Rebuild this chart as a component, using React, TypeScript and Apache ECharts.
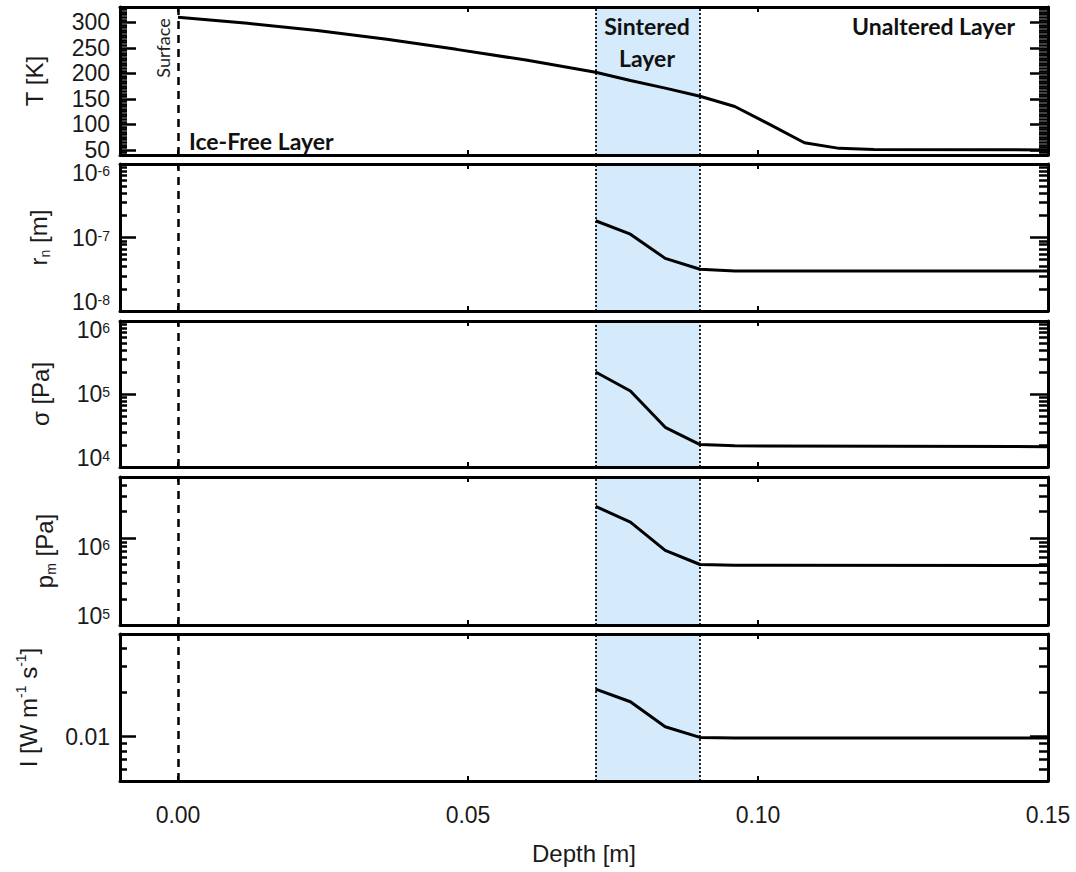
import React, { useEffect, useRef } from 'react';
import * as echarts from 'echarts';

// ---------- data ----------
const depthTicks = [0, 0.05, 0.1, 0.15];
const depthT = [0, 0.012, 0.024, 0.036, 0.048, 0.06, 0.072, 0.078, 0.084, 0.09, 0.096, 0.102, 0.108, 0.114, 0.12, 0.15];
const temperature = [310, 298, 284, 267, 247, 226, 202, 186, 171, 155, 135, 100, 64, 53, 51, 50];
const depthS = [0.072, 0.078, 0.084, 0.09, 0.096, 0.15];
const neckRadius = [1.69e-7, 1.11e-7, 5.2e-8, 3.7e-8, 3.5e-8, 3.5e-8];
const stress = [2.0e5, 1.1e5, 3.5e4, 2.03e4, 1.95e4, 1.9e4];
const pressure = [2.3e6, 1.52e6, 7.2e5, 4.95e5, 4.85e5, 4.83e5];
const conductivity = [0.0211, 0.0173, 0.0117, 0.0099, 0.0098, 0.0098];
const sinteredLayer = [0.072, 0.09];
const surfaceDepth = 0;

const tMajor = [50, 100, 150, 200, 250, 300];
const rMajor = [1e-8, 1e-7, 1e-6];
const sMajor = [1e4, 1e5, 1e6];
const pMajor = [1e5, 1e6];
const iMajor = [0.01];

// minor tick helpers
const linMinor = (lo: number, hi: number, step: number, major: number) => {
  const out: number[] = [];
  for (let v = lo; v <= hi + 1e-9; v += step) if (Math.abs(v % major) > 1e-6) out.push(v);
  return out;
};
const logMinor = (decades: number[], from = 2, to = 9) => {
  const out: number[] = [];
  decades.forEach((d) => { for (let k = from; k <= to; k++) out.push(k * d); });
  return out;
};

const FONT = "'Liberation Sans', Arial, Helvetica, sans-serif";
const TXT = '#1a1a1a';

const supFmt = (v: number) => `{b|10}{s|${Math.round(Math.log10(v))}}`;
const richLab = {
  b: { fontSize: 23, fontFamily: FONT, color: TXT, lineHeight: 18 },
  s: { fontSize: 14, fontFamily: FONT, color: TXT, verticalAlign: 'top', lineHeight: 12 },
};
const richName = {
  n: { fontSize: 24, fontFamily: FONT, color: TXT, lineHeight: 28 },
  sub: { fontSize: 14, fontFamily: FONT, color: TXT, verticalAlign: 'bottom', lineHeight: 14 },
  sup: { fontSize: 14, fontFamily: FONT, color: TXT, verticalAlign: 'top', lineHeight: 14 },
};

const panels = [
  { type: 'value', min: 40, max: 330, major: tMajor, minor: linMinor(40, 330, 5, 50), labels: tMajor, edge: false,
    fmt: (v: number) => `{b|${v}}`, name: '{n|T [K]}', gap: 72, x: depthT, y: temperature },
  { type: 'log', min: 1e-8, max: 1e-6, major: rMajor, minor: logMinor([1e-8, 1e-7]), labels: rMajor, edge: true,
    fmt: supFmt, name: '{n|r}{sub|n}{n| [m]}', gap: 68, x: depthS, y: neckRadius },
  { type: 'log', min: 1e4, max: 1e6, major: sMajor, minor: logMinor([1e4, 1e5]), labels: sMajor, edge: true,
    fmt: supFmt, name: '{n|σ [Pa]}', gap: 66, x: depthS, y: stress },
  { type: 'log', min: 1e5, max: 5e6, major: pMajor, minor: logMinor([1e5]).concat(logMinor([1e6], 2, 4)), labels: pMajor, edge: true,
    fmt: supFmt, name: '{n|p}{sub|m}{n| [Pa]}', gap: 62, x: depthS, y: pressure },
  { type: 'log', min: 0.005, max: 0.05, major: iMajor, minor: logMinor([1e-3], 6, 9).concat(logMinor([1e-2], 2, 4)), labels: iMajor, edge: false,
    fmt: (v: number) => `{b|${v}}`, name: '{n|I [W m}{sup|-1}{n| s}{sup|-1}{n|]}', gap: 78, x: depthS, y: conductivity },
];

const tops = [7, 164, 321, 477, 634];
const heights = [148, 147, 146, 148, 147];

export default function App() {
  const ref = useRef<HTMLDivElement>(null);
  useEffect(() => {
    if (!ref.current) return;
    const chart = echarts.init(ref.current, null, { renderer: 'svg' });
    const grids: any[] = [];
    const xAxes: any[] = [];
    const yAxes: any[] = [];
    const series: any[] = [];
    const lineW = 3;
    panels.forEach((p, gi) => {
      grids.push({ left: 120, right: 28, top: tops[gi], height: heights[gi], containLabel: false });
      const last = gi === panels.length - 1;
      const xCommon = {
        gridIndex: gi, type: 'value', min: -0.01, max: 0.15, z: 10,
        splitLine: { show: false },
        axisLine: { show: true, onZero: false, lineStyle: { color: '#000', width: lineW } },
        axisTick: { show: true, inside: true, length: 5, customValues: depthTicks, lineStyle: { color: '#000', width: 2 } },
      };
      xAxes.push({
        ...xCommon, position: 'bottom',
        axisLabel: {
          show: last, customValues: depthTicks, margin: 22, fontSize: 23, fontFamily: FONT, color: TXT,
          formatter: (v: number) => v.toFixed(2), showMinLabel: true, showMaxLabel: true,
        },
        name: last ? 'Depth [m]' : '', nameLocation: 'middle', nameGap: 60,
        nameTextStyle: { fontSize: 24, fontFamily: FONT, color: TXT },
      });
      xAxes.push({ ...xCommon, position: 'top', axisLabel: { show: false } });

      const yCommon = {
        gridIndex: gi, type: p.type, min: p.min, max: p.max, z: 10, logBase: 10,
        splitLine: { show: false }, minorTick: { show: false },
      };
      const tickStyle = { color: '#000', width: 2.5 };
      const labelAlign: any = p.edge ? { verticalAlignMinLabel: 'bottom', verticalAlignMaxLabel: 'top' } : {};
      yAxes.push({
        ...yCommon, position: 'left',
        axisLine: { show: true, onZero: false, lineStyle: { color: '#000', width: lineW } },
        axisTick: { show: true, inside: true, length: 16, customValues: p.major, lineStyle: tickStyle },
        axisLabel: {
          show: true, customValues: p.labels, formatter: p.fmt, margin: 10, rich: richLab,
          showMinLabel: true, showMaxLabel: true, hideOverlap: false, ...labelAlign,
        },
        name: p.name, nameLocation: 'middle', nameGap: p.gap,
        nameTextStyle: { rich: richName },
      });
      yAxes.push({
        ...yCommon, position: 'left', axisLine: { show: false, onZero: false },
        axisTick: { show: true, inside: true, length: 7, customValues: p.minor, lineStyle: tickStyle },
        axisLabel: { show: false },
      });
      yAxes.push({
        ...yCommon, position: 'right',
        axisLine: { show: true, onZero: false, lineStyle: { color: '#000', width: lineW } },
        axisTick: { show: true, inside: true, length: 18, customValues: p.major, lineStyle: tickStyle },
        axisLabel: { show: false },
      });
      yAxes.push({
        ...yCommon, position: 'right', axisLine: { show: false, onZero: false },
        axisTick: { show: true, inside: true, length: 9, customValues: p.minor, lineStyle: tickStyle },
        axisLabel: { show: false },
      });

      series.push({
        type: 'line', xAxisIndex: gi * 2, yAxisIndex: gi * 4,
        data: p.x.map((x, i) => [x, p.y[i]]),
        showSymbol: false, symbol: 'none', z: 6,
        lineStyle: { color: '#000', width: 3 },
        markArea: {
          silent: true, itemStyle: { color: '#d5eafb' },
          data: [[{ xAxis: sinteredLayer[0] }, { xAxis: sinteredLayer[1] }]],
        },
        markLine: {
          silent: true, symbol: ['none', 'none'], label: { show: false }, z: 4, precision: 4,
          data: [
            { xAxis: surfaceDepth, lineStyle: { color: '#000', width: 2.5, type: [8, 6] } },
            { xAxis: sinteredLayer[0], lineStyle: { color: '#222', width: 2, type: [2, 2] } },
            { xAxis: sinteredLayer[1], lineStyle: { color: '#222', width: 2, type: [2, 2] } },
          ],
        },
      });
    });

    const annFont = 'Lato, "Open Sans", sans-serif';
    const bold = { fontSize: 23, fontWeight: 'bold', fontFamily: annFont, fill: '#111', verticalAlign: 'middle' };
    chart.setOption({
      animation: false,
      backgroundColor: '#fff',
      grid: grids,
      xAxis: xAxes,
      yAxis: yAxes,
      series,
      graphic: [
        { type: 'text', x: 163, y: 48, rotation: Math.PI / 2, z: 20,
          style: { text: 'Surface', fontSize: 18, fontFamily: annFont, fill: '#222', align: 'center', verticalAlign: 'middle' } },
        { type: 'text', x: 189, y: 141, z: 20, style: { ...bold, text: 'Ice-Free Layer', align: 'left' } },
        { type: 'text', x: 647, y: 26, z: 20, style: { ...bold, text: 'Sintered', align: 'center' } },
        { type: 'text', x: 647, y: 58, z: 20, style: { ...bold, text: 'Layer', align: 'center' } },
        { type: 'text', x: 1015, y: 26, z: 20, style: { ...bold, text: 'Unaltered Layer', align: 'right' } },
      ],
    });
    return () => chart.dispose();
  }, []);
  return <div ref={ref} style={{ position: 'fixed', left: 0, top: 0, width: 1076, height: 872 }} />;
}
